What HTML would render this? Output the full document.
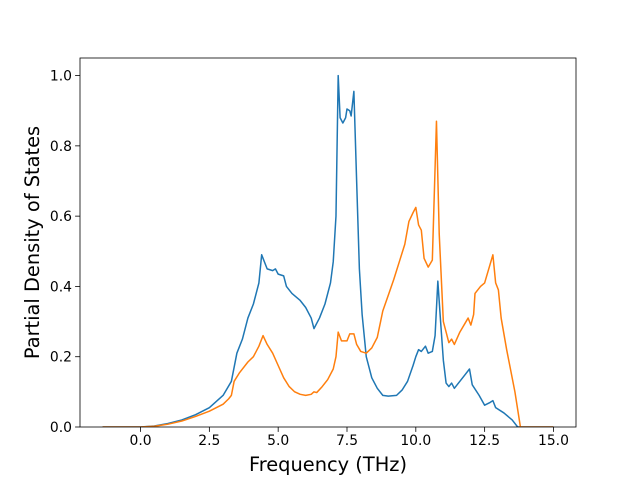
<!DOCTYPE html>
<html><head><meta charset="utf-8"><style>
html,body{margin:0;padding:0;background:#fff}
text{font-family:"DejaVu Sans","Liberation Sans",sans-serif;fill:#000}
</style></head><body>
<svg id="chart" width="640" height="480" xmlns="http://www.w3.org/2000/svg">
<rect x="0" y="0" width="640" height="480" fill="#fff"/>
<g id="plot"></g>
</svg>
<script>
const blueX=[-1.38,0,0.5,1,1.5,2,2.5,3,3.3,3.5,3.7,3.9,4.1,4.3,4.4,4.6,4.8,4.9,5.0,5.2,5.3,5.5,5.8,6.0,6.2,6.3,6.5,6.7,6.9,7.0,7.1,7.18,7.25,7.35,7.45,7.5,7.6,7.65,7.75,7.85,7.95,8.05,8.2,8.4,8.6,8.8,9.0,9.3,9.5,9.7,9.9,10.0,10.1,10.2,10.35,10.45,10.6,10.7,10.8,10.9,11.0,11.1,11.2,11.3,11.4,11.6,11.8,11.95,12.05,12.3,12.5,12.7,12.8,12.9,13.2,13.5,13.7,15];
const blueY=[0,0,0.003,0.01,0.02,0.035,0.055,0.09,0.13,0.21,0.25,0.31,0.35,0.41,0.49,0.45,0.445,0.45,0.435,0.43,0.40,0.38,0.36,0.34,0.31,0.28,0.31,0.35,0.41,0.47,0.6,1.0,0.88,0.865,0.88,0.905,0.90,0.885,0.955,0.70,0.45,0.32,0.2,0.14,0.11,0.09,0.088,0.09,0.105,0.13,0.175,0.2,0.22,0.215,0.23,0.21,0.215,0.26,0.415,0.3,0.19,0.125,0.115,0.125,0.11,0.13,0.15,0.165,0.12,0.09,0.062,0.07,0.075,0.055,0.04,0.02,0,0];
const orangeX=[-1.38,0,0.5,1,1.5,2,2.5,3,3.2,3.3,3.4,3.6,3.9,4.1,4.3,4.45,4.6,4.8,5.0,5.2,5.4,5.6,5.8,6.0,6.2,6.3,6.4,6.6,6.8,7.0,7.1,7.18,7.3,7.5,7.6,7.75,7.85,8.0,8.2,8.4,8.6,8.8,9.0,9.2,9.4,9.6,9.75,9.9,10.0,10.1,10.2,10.3,10.45,10.6,10.75,10.85,11.0,11.1,11.2,11.3,11.4,11.6,11.9,12.0,12.1,12.15,12.35,12.5,12.8,12.9,13.0,13.1,13.3,13.6,13.8,15];
const orangeY=[0,0,0.002,0.008,0.017,0.03,0.045,0.065,0.08,0.09,0.13,0.155,0.185,0.2,0.23,0.26,0.235,0.21,0.175,0.14,0.115,0.1,0.093,0.09,0.093,0.1,0.098,0.115,0.135,0.165,0.2,0.27,0.245,0.245,0.265,0.265,0.235,0.215,0.21,0.225,0.255,0.33,0.375,0.42,0.47,0.52,0.585,0.61,0.625,0.575,0.56,0.48,0.455,0.475,0.87,0.55,0.3,0.27,0.24,0.25,0.235,0.27,0.31,0.29,0.32,0.38,0.40,0.41,0.49,0.41,0.39,0.31,0.22,0.1,0,0];
const xTicks=[0,2.5,5,7.5,10,12.5,15];
const xTickLabels=["0.0","2.5","5.0","7.5","10.0","12.5","15.0"];
const yTicks=[0,0.2,0.4,0.6,0.8,1.0];
const yTickLabels=["0.0","0.2","0.4","0.6","0.8","1.0"];

const L=80,R=576,T=58,B=427;
const xMin=-2.199,xMax=15.819,yMin=0,yMax=1.05;
const sx=v=>L+(v-xMin)/(xMax-xMin)*(R-L);
const sy=v=>B-(v-yMin)/(yMax-yMin)*(B-T);
const NS="http://www.w3.org/2000/svg";
const g=document.getElementById('plot');
function mk(tag,attrs,parent){const e=document.createElementNS(NS,tag);for(const k in attrs)e.setAttribute(k,attrs[k]);(parent||g).appendChild(e);return e;}

function line(xs,ys,color,name){
  const d=xs.map((x,i)=>(i?'L':'M')+sx(x).toFixed(2)+','+sy(ys[i]).toFixed(2)).join(' ');
  const p=mk('path',{d:d,fill:'none',stroke:color,'stroke-width':1.5,'stroke-linejoin':'round'});
  
  
}
const clip=mk('clipPath',{id:'cp'});mk('rect',{x:L,y:T,width:R-L,height:B-T},clip);
const sg=mk('g',{'clip-path':'url(#cp)'});


const gg=g; 
function lineIn(xs,ys,color,name){
  const d=xs.map((x,i)=>(i?'L':'M')+sx(x).toFixed(2)+','+sy(ys[i]).toFixed(2)).join(' ');
  const p=mk('path',{d:d,fill:'none',stroke:color,'stroke-width':1.5,'stroke-linejoin':'round'},sg);
  
  
}
lineIn(blueX,blueY,'#1f77b4','series-blue-line');
lineIn(orangeX,orangeY,'#ff7f0e','series-orange-line');

const frame=mk('rect',{x:L,y:T,width:R-L,height:B-T,fill:'none',stroke:'#000','stroke-width':0.8});



xTicks.forEach((v,i)=>{
  const x=sx(v);
  const t=mk('line',{x1:x,x2:x,y1:B,y2:B+4.9,stroke:'#000','stroke-width':0.8});
  
  
  const tx=mk('text',{x:x,y:B+18,'text-anchor':'middle','font-size':'13.9px'});
  tx.textContent=xTickLabels[i];
  
  
});
yTicks.forEach((v,i)=>{
  const y=sy(v);
  const t=mk('line',{x1:L-4.9,x2:L,y1:y,y2:y,stroke:'#000','stroke-width':0.8});
  
  
  const tx=mk('text',{x:L-8,y:y+5,'text-anchor':'end','font-size':'13.9px'});
  tx.textContent=yTickLabels[i];
  
  
});
const xl=mk('text',{x:(L+R)/2,y:471,'text-anchor':'middle','font-size':'19.4px'});
xl.textContent='Frequency (THz)';


const yl=mk('text',{x:0,y:0,'text-anchor':'middle','font-size':'19.4px',transform:'translate(39,'+((T+B)/2)+') rotate(-90)'});
yl.textContent='Partial Density of States';


</script>
</body></html>
